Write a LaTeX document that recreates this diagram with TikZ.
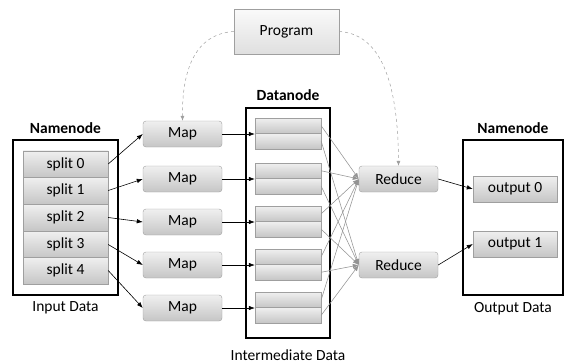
\documentclass[tikz,border=0pt]{standalone}
\usepackage{fontspec}
\setmainfont{Carlito}
\usetikzlibrary{arrows.meta}
\begin{document}
\begin{tikzpicture}[x=1pt,y=-1pt,
  box/.style={draw=gray!75, top color=gray!12, bottom color=gray!45, inner sep=0pt, font=\fontsize{15.5}{17}\selectfont},
  mapbox/.style={box, rounded corners=3pt, minimum width=79pt, minimum height=26pt},
  splitbox/.style={box, minimum width=85pt, minimum height=26.5pt},
  outbox/.style={box, minimum width=84pt, minimum height=26pt},
  barbox/.style={box, minimum width=66pt, minimum height=15.5pt},
  frame/.style={draw=black, line width=1.2pt, fill=white},
  ttl/.style={font=\bfseries\fontsize{15.5}{17}\selectfont, inner sep=0pt},
  captxt/.style={font=\fontsize{15.5}{17}\selectfont, inner sep=0pt},
  arr/.style={-{Latex[length=6pt,width=4.5pt]}, line width=0.6pt},
  garr/.style={-{Latex[length=6pt,width=4.5pt]}, draw=gray!85, line width=0.55pt},
  dasharr/.style={-{Latex[length=5pt,width=4pt]}, draw=gray!75, dashed, line width=0.5pt}
]
\useasboundingbox (0,0) rectangle (565,364);

% frames
\node[frame, minimum width=105pt, minimum height=155pt, inner sep=0pt] (inframe) at (65.5,217.5) {};
\node[frame, minimum width=84pt, minimum height=230pt, inner sep=0pt] (dframe) at (288,223) {};
\node[frame, minimum width=100pt, minimum height=155pt, inner sep=0pt] (outframe) at (513,217.5) {};

\node[ttl] (nn1) at (65.5,128) {Namenode};
\node[ttl] (dn) at (288,95) {Datanode};
\node[ttl] (nn2) at (513,128) {Namenode};
\node[captxt] (inlab) at (65.5,308) {Input Data};
\node[captxt] (midlab) at (288,355) {Intermediate Data};
\node[captxt] (outlab) at (513,309) {Output Data};

% program
\node[box, top color=gray!4, bottom color=gray!25, minimum width=105pt, minimum height=45pt] (prog) at (286.5,31.5) {Program};

% splits
\foreach \i/\y in {0/164,1/190.5,2/217.5,3/244.5,4/270.5}
  \node[splitbox] (s\i) at (65.5,\y) {split \i};

% maps and bars
\foreach \i/\t in {1/118,2/163,3/206,4/249,5/292} {
  \node[mapbox] (m\i) at (182.5,\t+16) {Map};
  \node[barbox] (a\i) at (288,\t+7.75) {};
  \node[barbox] (b\i) at (288,\t+23.25) {};
}

% reduces
\node[mapbox] (r1) at (398.5,179) {Reduce};
\node[mapbox] (r2) at (398.5,265) {Reduce};

% outputs
\node[outbox] (o0) at (515,189) {output 0};
\node[outbox] (o1) at (515,244) {output 1};

% split -> map
\draw[arr] (s0.east) -- (m1.west);
\draw[arr] (s1.east) -- (m2.west);
\draw[arr] (s2.east) -- (m3.west);
\draw[arr] (s3.east) -- (m4.west);
\draw[arr] (s4.east) -- (m5.west);

% map -> bars
\foreach \i in {1,...,5}
  \draw[arr] (m\i.east) -- (m\i.east -| a\i.west);

% bars -> reduce
\foreach \i in {1,...,5} {
  \draw[garr] (a\i.east) -- (r1.west);
  \draw[garr] (b\i.east) -- (r2.west);
}

% reduce -> output
\draw[arr] (r1.east) -- (o0.west);
\draw[arr] (r2.east) -- (o1.west);

% program dashed
\draw[dasharr] (prog.west) .. controls (195,34) and (182,70) .. (m1.north);
\draw[dasharr] (prog.east) .. controls (380,34) and (398,80) .. (r1.north);
\end{tikzpicture}
\end{document}
